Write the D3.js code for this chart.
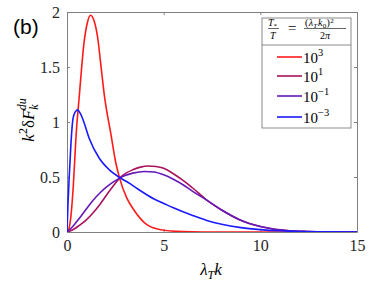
<!DOCTYPE html>
<html>
<head>
<meta charset="utf-8">
<script src="https://d3js.org/d3.v7.min.js"></script>
<style>
  body { margin: 0; background: #fff; }
  .serif { font-family: "Liberation Serif", "Times New Roman", "DejaVu Serif", serif; }
</style>
</head>
<body>
<div id="chart"></div>
<script>
// values (lambda_T k, k^2 dF)
var k_1e3 = [0, 0.1, 0.2, 0.33, 0.47, 0.64, 0.88, 1.05, 1.22, 1.4, 1.6, 1.75, 1.93, 2.28, 2.5, 2.72, 3.09, 3.46, 4.15, 4.85, 6, 7, 15];
var f_1e3 = [0, 0.03, 0.14, 0.43, 0.88, 1.245, 1.72, 1.9, 1.97, 1.92, 1.75, 1.52, 1.245, 0.88, 0.65, 0.49, 0.31, 0.2, 0.064, 0.02, 0.003, 0, 0];

var k_1e1 = [0, 0.3, 0.64, 1.0, 1.33, 1.7, 2.02, 2.4, 2.72, 3.05, 3.4, 3.8, 4.2, 4.6, 5.0, 5.5, 6.0, 6.5, 7.23, 8, 8.95, 10, 10.67, 11.5, 12.4, 13.5, 15];
var f_1e1 = [0, 0.02, 0.06, 0.11, 0.17, 0.25, 0.33, 0.42, 0.49, 0.535, 0.565, 0.59, 0.6, 0.596, 0.58, 0.53, 0.47, 0.4, 0.29, 0.2, 0.11, 0.05, 0.027, 0.012, 0.005, 0.001, 0];

var k_1em1 = [0, 0.3, 0.64, 1.0, 1.33, 1.7, 2.02, 2.4, 2.72, 3.0, 3.4, 4.0, 4.5, 5.0, 5.5, 6.0, 6.5, 7.23, 8, 8.95, 10, 10.67, 11.5, 12.4, 13.5, 15];
var f_1em1 = [0, 0.05, 0.125, 0.21, 0.285, 0.355, 0.405, 0.455, 0.49, 0.513, 0.535, 0.55, 0.545, 0.52, 0.48, 0.43, 0.37, 0.29, 0.2, 0.11, 0.05, 0.027, 0.012, 0.005, 0.001, 0];

var k_1em3 = [0, 0.05, 0.12, 0.2, 0.31, 0.42, 0.55, 0.68, 0.81, 1.15, 1.67, 2.19, 2.71, 3.3, 3.8, 4.5, 5, 5.5, 6.5, 7.23, 8, 9, 10, 11, 12, 13, 15];
var f_1em3 = [0, 0.25, 0.52, 0.79, 1.03, 1.09, 1.11, 1.08, 1.03, 0.85, 0.67, 0.565, 0.497, 0.435, 0.375, 0.3, 0.26, 0.22, 0.15, 0.105, 0.07, 0.04, 0.022, 0.011, 0.005, 0.002, 0];

var seriesExp = ["3", "1", "\u22121", "\u22123"];
var seriesColor = ["#ff1a1a", "#a8125e", "#6618b8", "#1a1aff"];

var xTicks = [0, 5, 10, 15];
var yTicks = [0, 0.5, 1, 1.5, 2];
var yTickLabels = ["0", "0.5", "1", "1.5", "2"];

var width = 374, height = 286;
var margin = {top: 12, right: 17, bottom: 54, left: 67};
var w = width - margin.left - margin.right,
    h = height - margin.top - margin.bottom;

var svg = d3.select("#chart").append("svg")
    .attr("width", width)
    .attr("height", height);

var g = svg.append("g")
    .attr("transform", `translate(${margin.left},${margin.top})`);

var x = d3.scaleLinear().domain([0, 15]).range([0, w]);
var y = d3.scaleLinear().domain([0, 2]).range([h, 0]);

g.append("clipPath").attr("id", "clip")
  .append("rect").attr("width", w).attr("height", h);

var tickCol = "#262626";
var axCol = "#808080";
var tl = 3;

// ticks on all four sides, pointing in
var axB = g.append("g").attr("transform", `translate(0,${h})`)
    .call(d3.axisBottom(x).tickValues(xTicks).tickSizeInner(-tl).tickSizeOuter(0).tickPadding(8));
var axT = g.append("g")
    .call(d3.axisTop(x).tickValues(xTicks).tickSizeInner(-tl).tickSizeOuter(0).tickFormat(""));
var axL = g.append("g")
    .call(d3.axisLeft(y).tickValues(yTicks).tickSizeInner(-tl).tickSizeOuter(0).tickPadding(7)
      .tickFormat(function(d, i) { return yTickLabels[i]; }));
var axR = g.append("g").attr("transform", `translate(${w},0)`)
    .call(d3.axisRight(y).tickValues(yTicks).tickSizeInner(-tl).tickSizeOuter(0).tickFormat(""));

[axB, axT, axL, axR].forEach(function(a) {
  a.attr("font-family", null).attr("font-size", null).attr("class", "serif");
  a.select(".domain").attr("stroke", axCol);
  a.selectAll(".tick line").attr("stroke", axCol);
  a.selectAll(".tick text").attr("fill", tickCol).style("font-size", "16px");
});

var line = d3.line()
    .x(function(d) { return x(d[0]); })
    .y(function(d) { return y(d[1]); })
    .curve(d3.curveMonotoneX);

var series = [
  [k_1e3, f_1e3],
  [k_1e1, f_1e1],
  [k_1em1, f_1em1],
  [k_1em3, f_1em3]
];

g.append("g").attr("clip-path", "url(#clip)")
  .selectAll("path")
  .data(series)
  .join("path")
    .attr("d", function(s) { return line(d3.zip(s[0], s[1])); })
    .attr("fill", "none")
    .attr("stroke", function(s, i) { return seriesColor[i]; })
    .attr("stroke-width", 1.6)
    .attr("stroke-linejoin", "round");

// legend
var lg = svg.append("g").attr("transform", "translate(262,18)");
lg.append("rect").attr("width", 89).attr("height", 110)
    .attr("fill", "#fff").attr("stroke", "#6e6e6e").attr("stroke-width", 0.8);
lg.append("line").attr("x1", 0).attr("x2", 89).attr("y1", 27).attr("y2", 27)
    .attr("stroke", "#6e6e6e").attr("stroke-width", 0.8);

var hf = lg.append("g").attr("class", "serif").style("font-size", "10px").attr("fill", "#000");
// T_* / T
var t1 = hf.append("text").attr("x", 6).attr("y", 8).style("font-style", "italic");
t1.append("tspan").text("T");
t1.append("tspan").attr("dy", 2).style("font-size", "7px").style("font-style", "normal").text("*");
hf.append("line").attr("x1", 6).attr("x2", 17).attr("y1", 10.5).attr("y2", 10.5).attr("stroke", "#000").attr("stroke-width", 0.6);
hf.append("text").attr("x", 8).attr("y", 20.5).style("font-style", "italic").text("T");
hf.append("text").attr("x", 26).attr("y", 15).style("font-size", "15px").text("=");
// (lambda_T k_0)^2 / 2pi
var t2 = hf.append("text").attr("x", 43).attr("y", 8).style("letter-spacing", "0.3px");
t2.append("tspan").text("(");
t2.append("tspan").style("font-style", "italic").text("\u03bb");
t2.append("tspan").attr("dy", 2).style("font-size", "7px").style("font-style", "italic").text("T");
t2.append("tspan").attr("dx", 0.5).attr("dy", -2).style("font-style", "italic").text("k");
t2.append("tspan").attr("dy", 2).style("font-size", "7px").text("0");
t2.append("tspan").attr("dy", -2).text(")");
t2.append("tspan").attr("dy", -3).style("font-size", "7px").text("2");
hf.append("line").attr("x1", 42).attr("x2", 84).attr("y1", 10.5).attr("y2", 10.5).attr("stroke", "#000").attr("stroke-width", 0.6);
var t3 = hf.append("text").attr("x", 63).attr("y", 20.5).attr("text-anchor", "middle");
t3.append("tspan").text("2");
t3.append("tspan").style("font-style", "italic").text("\u03c0");

var rowY = [39, 58, 78, 99];
var items = lg.selectAll(".item")
  .data(seriesExp)
  .join("g")
    .attr("class", "item")
    .attr("transform", function(d, i) { return `translate(0,${rowY[i]})`; });
items.append("line")
    .attr("x1", 15).attr("x2", 40)
    .attr("stroke", function(d, i) { return seriesColor[i]; })
    .attr("stroke-width", 1.6);
var it = items.append("text").attr("x", 41).attr("y", 6).attr("class", "serif")
    .style("font-size", "15px").attr("fill", "#000");
it.append("tspan").text("10");
it.append("tspan").attr("dy", -7).style("font-size", "10.5px").text(function(d) { return d; });

// panel label
svg.append("text").attr("x", 13).attr("y", 34)
    .style("font-family", "'Liberation Sans', Arial, sans-serif")
    .style("font-size", "21px").text("(b)");

// x label
var xl = svg.append("text").attr("x", 211).attr("y", 275).attr("text-anchor", "middle")
    .attr("class", "serif").style("font-size", "17px").style("font-style", "italic");
xl.append("tspan").text("\u03bb");
xl.append("tspan").attr("dy", 4).style("font-size", "12px").text("T");
xl.append("tspan").attr("dy", -4).text("k");

// y label
var yl = svg.append("text")
    .attr("transform", "translate(34,120) rotate(-90)")
    .attr("text-anchor", "middle")
    .attr("class", "serif").style("font-size", "17px").style("font-style", "italic");
yl.append("tspan").text("k");
yl.append("tspan").attr("dy", -7).style("font-size", "12px").style("font-style", "normal").text("2");
yl.append("tspan").attr("dy", 7).style("font-style", "normal").text("\u03b4");
yl.append("tspan").text("F");
yl.append("tspan").attr("dy", 4).style("font-size", "12px").text("k");
yl.append("tspan").attr("dx", -6).attr("dy", -12).style("font-size", "12px").text("du");
</script>
</body>
</html>
